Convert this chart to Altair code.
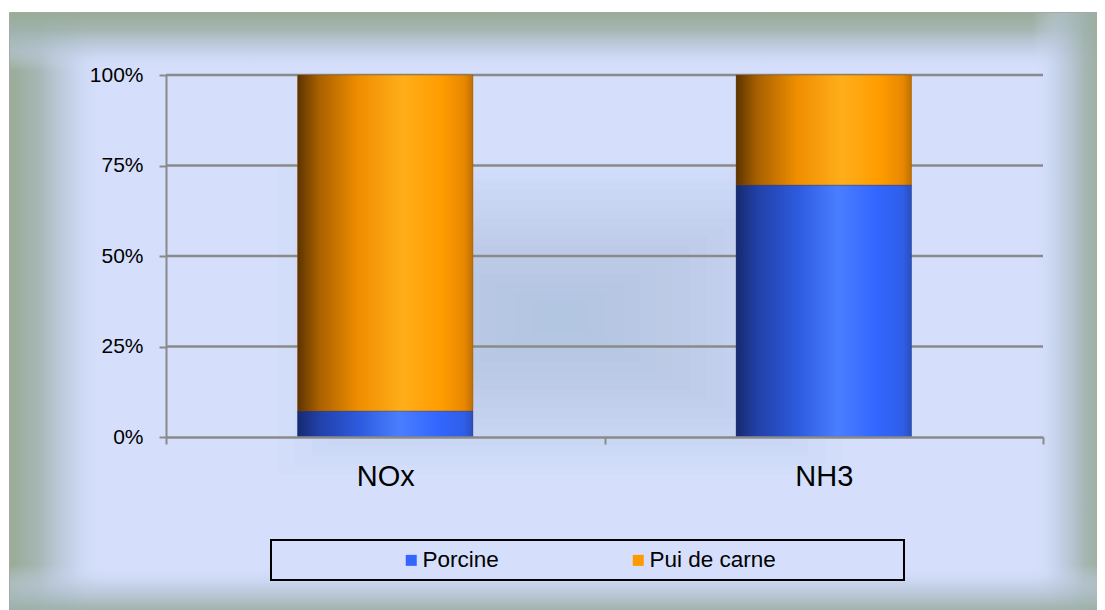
import altair as alt
import pandas as pd

# ---- data ----
categories = ["NOx", "NH3"]
series_names = ["Porcine", "Pui de carne"]
porcine = [7.2, 69.6]
pui_de_carne = [92.8, 30.4]
y_ticks = [0, 0.25, 0.5, 0.75, 1.0]
grid_values = [0.25, 0.5, 0.75, 1.0]
flat_colors = ["#3366ff", "#ff9900"]

rows = []
for i, c in enumerate(categories):
    rows.append({"category": c, "series": series_names[0], "value": porcine[i], "order": 0})
    rows.append({"category": c, "series": series_names[1], "value": pui_de_carne[i], "order": 1})
df = pd.DataFrame(rows)
grid_df = pd.DataFrame({"v": grid_values})
one = pd.DataFrame({"k": [0]})

W, H = 877, 362
FONT = "Liberation Sans"
GREY = "#8a8a8a"
LIGHT = "#d5dffc"
GREEN = "#98ac96"


def stops(pairs):
    return [alt.GradientStop(offset=o, color=c) for o, c in pairs]


def lin(x1, y1, x2, y2, pairs):
    return alt.LinearGradient(gradient="linear", x1=x1, y1=y1, x2=x2, y2=y2, stops=stops(pairs))


def rect(x, x2, y, y2, **kw):
    return alt.Chart(one).mark_rect(**kw).encode(
        x=alt.value(x), x2=alt.value(x2), y=alt.value(y), y2=alt.value(y2)
    )


edge = [(0, GREEN), (0.3, "rgba(160,178,172,0.9)"), (0.65, "rgba(185,199,218,0.6)"),
        (1, "rgba(213,223,252,0)")]

# frame (chart area) in plot coordinates
FL, FT, FR, FB = -156, -62, 941, 550
frame = rect(FL, FR, FT, FB, fill=LIGHT, stroke="#8c8c8c", strokeWidth=1.5)
left_edge = rect(FL, FL + 95, FT, FB, color=lin(0, 0, 1, 0, edge))
top_edge = rect(FL, FR, FT, FT + 58, color=lin(0, 0, 0, 1, edge))
right_edge = rect(FR - 75, FR, FT, FB, color=lin(1, 0, 0, 0, edge))
bottom_edge = rect(FL, FR, FB - 60, FB, color=lin(0, 1, 0, 0, edge))

# soft bluish spot in the middle: nested translucent rectangles
CX, CY = 394, 243
spot_layers = []
n = 16
for k in range(n):
    f = 1 - k / n
    hw, hh = 12 + 270 * f, 6 + 150 * f
    spot_layers.append(rect(CX - hw, CX + hw, CY - hh, CY + hh, fill="#9fb6d4", opacity=0.04))

y_axis = alt.Axis(
    title=None, values=y_ticks, format=".0%", grid=False, zindex=1,
    domainColor=GREY, domainWidth=2, tickColor=GREY, tickWidth=2, tickSize=7,
    labelFont=FONT, labelFontSize=21, labelColor="black", labelPadding=16,
)
x_axis = alt.Axis(
    title=None, labelAngle=0, grid=False, zindex=1, tickBand="extent",
    domainColor=GREY, domainWidth=2.5, tickColor=GREY, tickWidth=2, tickSize=7,
    labelFont=FONT, labelFontSize=29, labelColor="black", labelPadding=18,
)
y_scale = alt.Scale(domain=[0, 1], nice=False)
x_scale = alt.Scale(domain=categories, paddingInner=0, paddingOuter=0)

grid = alt.Chart(grid_df).mark_rule(color=GREY, strokeWidth=2.5).encode(
    y=alt.Y("v:Q", scale=y_scale, axis=y_axis), x=alt.value(0), x2=alt.value(W)
)

base = (
    alt.Chart(df)
    .transform_joinaggregate(total="sum(value)", groupby=["category"])
    .transform_calculate(frac="datum.value / datum.total")
    .transform_stack(stack="frac", as_=["y0", "y1"], groupby=["category"],
                     sort=[alt.SortField("order", order="ascending")])
)

enc = dict(
    x=alt.X("category:N", sort=categories, scale=x_scale, axis=x_axis),
    y=alt.Y("y0:Q", scale=y_scale, axis=y_axis),
    y2="y1:Q",
)
BAR_W = alt.RelativeBandSize(0.4)

flat = base.mark_bar(width=BAR_W).encode(
    color=alt.Color(
        "series:N", sort=series_names,
        scale=alt.Scale(domain=series_names, range=flat_colors),
        legend=alt.Legend(
            orient="none", legendX=234, legendY=474, direction="horizontal", title=None,
            symbolType="square", symbolSize=121, symbolStrokeWidth=0,
            labelFont=FONT, labelFontSize=22.5, labelColor="black",
            columnPadding=128, labelOffset=0, padding=0,
        ),
    ),
    **enc,
)

blue_grad = lin(0, 0, 1, 0, [(0, "#172a6e"), (0.12, "#2140a8"), (0.35, "#2d5ade"),
                             (0.58, "#4a7eff"), (0.8, "#3366ff"), (0.95, "#2f5ee8"), (1, "#2a4fbf")])
orange_grad = lin(0, 0, 1, 0, [(0, "#5c3400"), (0.12, "#a86000"), (0.35, "#f08e00"),
                               (0.6, "#ffae1a"), (0.82, "#ff9c00"), (0.95, "#e88800"), (1, "#c27000")])

blue_bar = base.transform_filter(alt.datum.series == series_names[0]).mark_bar(
    width=BAR_W, color=blue_grad, stroke="rgba(40,60,120,0.35)", strokeWidth=1
).encode(**enc)
orange_bar = base.transform_filter(alt.datum.series == series_names[1]).mark_bar(
    width=BAR_W, color=orange_grad, stroke="rgba(120,70,0,0.35)", strokeWidth=1
).encode(**enc)

legend_box = rect(105, 738, 465, 505, fill=LIGHT, stroke="black", strokeWidth=2)

chart = (
    alt.layer(frame, left_edge, top_edge, right_edge, bottom_edge, *spot_layers, legend_box,
              grid, flat, blue_bar, orange_bar)
    .properties(
        width=W, height=H,
        padding={"left": 158, "top": 67, "right": 54, "bottom": 173},
        autosize=alt.AutoSizeParams(type="none"),
        background="white",
    )
    .configure_view(stroke=None)
)

chart.save("out.html", embed_options={"renderer": "svg", "actions": False})
